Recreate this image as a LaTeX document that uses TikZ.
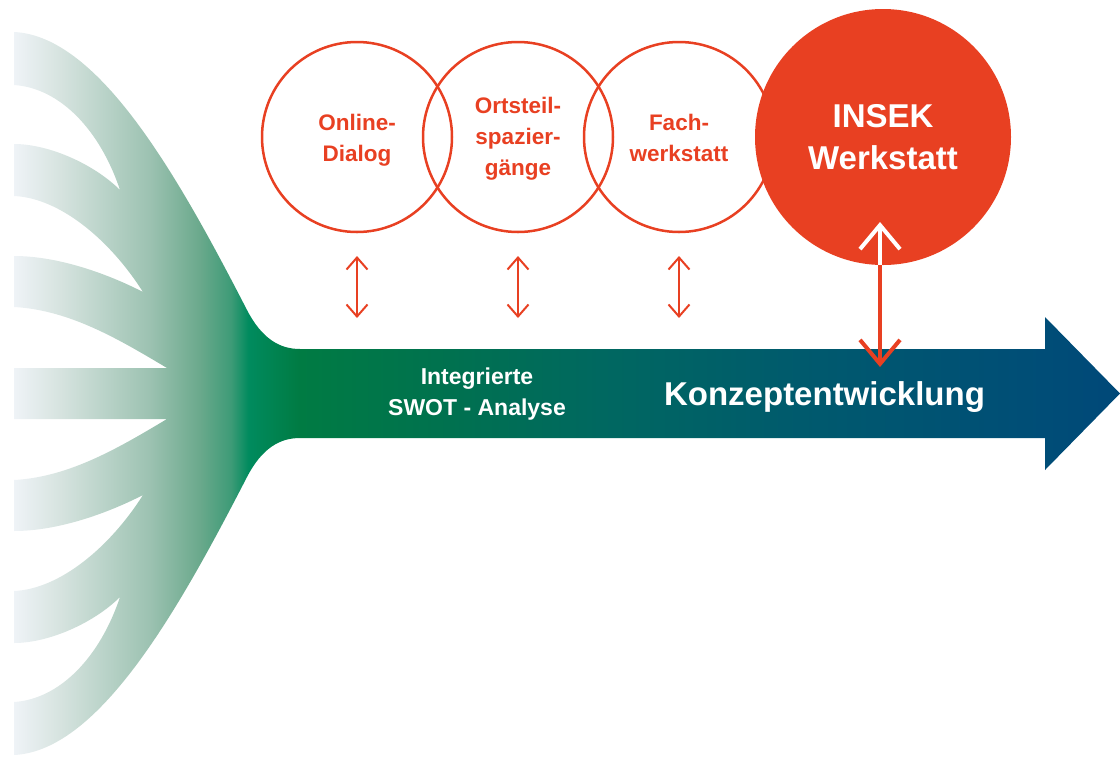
\documentclass[tikz,border=0pt]{standalone}
\usepackage{fontspec}
\setmainfont{Liberation Sans}
\usetikzlibrary{arrows.meta}
\definecolor{accent}{HTML}{E84022}
\definecolor{s0}{HTML}{EFF3F7}
\definecolor{s1}{HTML}{D6E3DF}
\definecolor{s2}{HTML}{9CC2B1}
\definecolor{s3}{HTML}{6AA98C}
\definecolor{s4}{HTML}{3E9B77}
\definecolor{s5}{HTML}{008B5E}
\definecolor{s6}{HTML}{007B43}
\definecolor{s7}{HTML}{00714F}
\definecolor{s8}{HTML}{006860}
\definecolor{s9}{HTML}{005A6D}
\definecolor{s10}{HTML}{004D77}
\definecolor{s11}{HTML}{004878}
\pgfdeclarehorizontalshading{flow}{100bp}{color(0bp)=(s0); color(25bp)=(s0); color(27.1bp)=(s1); color(31.15bp)=(s2); color(33.4bp)=(s3); color(34.8bp)=(s4); color(35.6bp)=(s5); color(37.9bp)=(s6); color(44.7bp)=(s7); color(51.5bp)=(s8); color(60.5bp)=(s9); color(71.6bp)=(s10); color(75bp)=(s11); color(100bp)=(s11)}
\tikzset{
  ring/.style={circle, draw=accent, line width=2.5pt, minimum size=190pt, inner sep=0pt},
  ringtext/.style={text=accent, align=center, inner sep=0pt, font=\bfseries\fontsize{22.5}{31}\selectfont},
  bigcircle/.style={circle, fill=accent, minimum size=256pt, inner sep=0pt,
    text=white, align=center, font=\bfseries\fontsize{33}{42.4}\selectfont},
  bandtext/.style={text=white, align=center, inner sep=0pt},
  smallarrow/.style={draw=accent, line width=2pt,
    {Straight Barb[length=12pt,width=21pt]}-{Straight Barb[length=12pt,width=21pt]}},
  bigarrow/.style={line width=4pt,
    {Straight Barb[length=24pt,width=40pt]}-{Straight Barb[length=24pt,width=40pt]}}
}
\begin{document}
\begin{tikzpicture}[x=1pt,y=-1pt]
\useasboundingbox (0,0) rectangle (1120,756);
% flow shape: fan + arrow
\shade[shading=flow]
  (14,32) .. controls (100,36) and (180,180) .. (247,310)
  .. controls (262,339) and (280,349) .. (300,349)
  -- (1045,349) -- (1045,317) -- (1120,393.5) -- (1045,470) -- (1045,438)
  -- (300,438) .. controls (280,438) and (262,448) .. (247,477)
  .. controls (180,607) and (100,751) .. (14,755)
  -- (14,702) .. controls (60,699) and (100,657) .. (120,597)
  .. controls (95,622) and (50,643) .. (14,643)
  -- (14,591) .. controls (60,589) and (110,547) .. (143,495)
  .. controls (110,512) and (60,531) .. (14,531)
  -- (14,480) .. controls (70,477) and (120,447) .. (167,419)
  -- (14,419) -- (14,368) -- (167,368)
  .. controls (120,340) and (70,310) .. (14,307)
  -- (14,256) .. controls (60,256) and (110,275) .. (143,292)
  .. controls (110,240) and (60,198) .. (14,196)
  -- (14,144) .. controls (50,144) and (95,165) .. (120,190)
  .. controls (100,130) and (60,88) .. (14,85)
  -- cycle;
% band labels
\node[bandtext, anchor=base, font=\bfseries\fontsize{23}{31}\selectfont] (swot) at (477,415) {Integrierte\\SWOT - Analyse};
\node[bandtext, anchor=base, font=\bfseries\fontsize{33}{40}\selectfont] (konz) at (824.5,405) {Konzeptentwicklung};
% circles
\node[ring] (c1) at (357,137) {};
\node[ring] (c2) at (518,137) {};
\node[ring] (c3) at (679,137) {};
\node[ringtext, anchor=base] (t1) at (c1.center) [yshift=-24pt] {Online-\\Dialog};
\node[ringtext, anchor=base] (t2) at (c2.center) [yshift=-38.5pt] {Ortsteil-\\spazier-\\gänge};
\node[ringtext, anchor=base] (t3) at (c3.center) [yshift=-24pt] {Fach-\\werkstatt};
\node[bigcircle] (c4) at (883,137) {INSEK\\Werkstatt};
% arrows
\coordinate (a1t) at (357,256); \coordinate (a1b) at (357,318);
\coordinate (a2t) at (518,256); \coordinate (a2b) at (518,318);
\coordinate (a3t) at (679,256); \coordinate (a3b) at (679,318);
\coordinate (b1) at (880,222); \coordinate (b2) at (880,367);
\draw[smallarrow] (a1t) -- (a1b);
\draw[smallarrow] (a2t) -- (a2b);
\draw[smallarrow] (a3t) -- (a3b);
\draw[bigarrow, draw=accent] (b1) -- (b2);
\begin{scope}
  \clip (c4.center) circle[radius=128];
  \draw[bigarrow, draw=white] (b1) -- (b2);
\end{scope}
\end{tikzpicture}
\end{document}
